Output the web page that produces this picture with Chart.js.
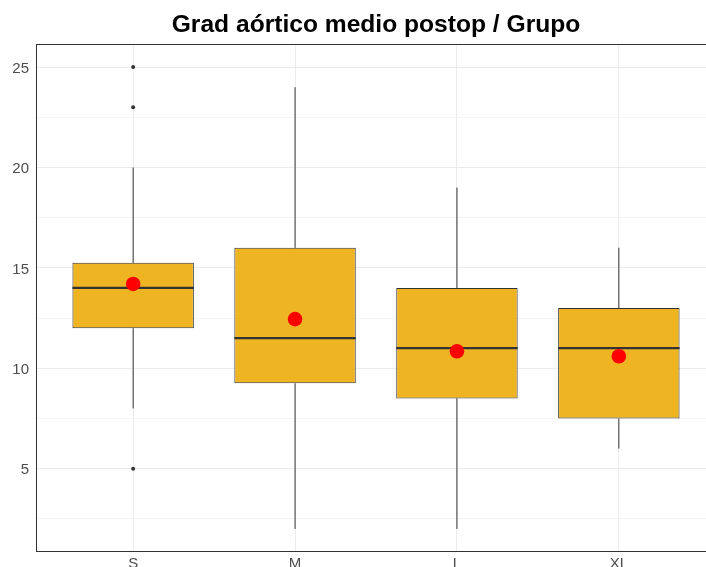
<!DOCTYPE html>
<html>
<head>
<meta charset="utf-8">
<script src="https://cdn.jsdelivr.net/npm/chart.js@4/dist/chart.umd.min.js"></script>
<style>
  html, body { margin: 0; padding: 0; background: #ffffff; overflow: hidden; }
  #wrap { position: absolute; left: 0; top: 0; }
</style>
</head>
<body>
<div id="wrap"><canvas id="c" width="720" height="600"></canvas></div>
<script>
// Groups and their five-number summaries
const categories = ['S', 'M', 'L', 'XL'];
const whiskerLow  = [8, 2, 2, 6];
const q1          = [12, 9.25, 8.5, 7.5];
const medians     = [14, 11.5, 11, 11];
const q3          = [15.25, 16, 14, 13];
const whiskerHigh = [20, 24, 19, 16];
const means       = [14.2, 12.45, 10.85, 10.6];
const outliers    = [[25, 23, 5], [], [], []];

// Axis ticks / gridlines
const yTickValues = [2.5, 5, 7.5, 10, 12.5, 15, 17.5, 20, 22.5, 25];
const yLabelValues = [5, 10, 15, 20, 25];

const BOX_W = 0.75;
const DARK = '#333333';

const positions = categories.map((_, i) => i + 1);

// whisker segments: low -> Q1 and Q3 -> high, separated by gaps
const whiskerData = [];
positions.forEach((x, i) => {
  whiskerData.push({ x, y: whiskerLow[i] }, { x, y: q1[i] }, { x, y: null });
  whiskerData.push({ x, y: q3[i] }, { x, y: whiskerHigh[i] }, { x, y: null });
});

const boxData = positions.map((x, i) => ({ x, y: [q1[i], q3[i]] }));

const medianData = [];
positions.forEach((x, i) => {
  medianData.push({ x: x - BOX_W / 2, y: medians[i] }, { x: x + BOX_W / 2, y: medians[i] }, { x, y: null });
});

const outlierData = [];
positions.forEach((x, i) => outliers[i].forEach(v => outlierData.push({ x, y: v })));

const meanData = positions.map((x, i) => ({ x, y: means[i] }));

// frame around the plotting panel
const panelBorder = {
  id: 'panelBorder',
  afterDatasetsDraw(chart) {
    const { ctx, chartArea: a } = chart;
    ctx.save();
    ctx.strokeStyle = DARK;
    ctx.lineWidth = 1;
    ctx.strokeRect(Math.round(a.left) + 0.5, Math.round(a.top) + 0.5,
                   Math.round(a.right - a.left) - 1, Math.round(a.bottom - a.top) - 1);
    ctx.restore();
  }
};

new Chart(document.getElementById('c'), {
  type: 'bar',
  data: {
    datasets: [
      {
        type: 'line', data: whiskerData, order: 5,
        borderColor: DARK, borderWidth: 1, pointRadius: 0, spanGaps: false, tension: 0
      },
      {
        type: 'bar', data: boxData, order: 4,
        backgroundColor: '#EEB422', borderColor: DARK, borderWidth: 1, borderSkipped: false,
        barPercentage: BOX_W, categoryPercentage: 1.0
      },
      {
        type: 'line', data: medianData, order: 3,
        borderColor: DARK, borderWidth: 2.2, pointRadius: 0, spanGaps: false, tension: 0,
        borderCapStyle: 'butt'
      },
      {
        type: 'scatter', data: outlierData, order: 2,
        pointRadius: 2, backgroundColor: DARK, borderWidth: 0
      },
      {
        type: 'scatter', data: meanData, order: 1,
        pointRadius: 7.3, backgroundColor: '#FF0000', borderWidth: 0
      }
    ]
  },
  options: {
    responsive: false,
    animation: false,
    layout: { autoPadding: false, padding: { left: 0, right: 4, top: 0, bottom: 0 } },
    plugins: {
      legend: { display: false },
      tooltip: { enabled: false },
      title: {
        display: true,
        text: 'Grad aórtico medio postop / Grupo',
        fullSize: false,
        color: '#000000',
        font: { family: 'Liberation Sans', size: 24.6, weight: 'bold', lineHeight: 1.2 },
        padding: { top: 10, bottom: 4.5 }
      }
    },
    scales: {
      x: {
        type: 'linear',
        offset: false,
        min: 0.4, max: 4.6,
        afterBuildTicks: s => { s.ticks = positions.map(v => ({ value: v })); },
        afterFit: s => { s.height = 48; s.paddingLeft = 0; s.paddingRight = 0; },
        grid: { color: '#EBEBEB', lineWidth: 1, drawTicks: false, offset: false },
        border: { display: false },
        ticks: {
          padding: 3,
          color: '#4D4D4D',
          font: { family: 'Liberation Sans', size: 15 },
          callback: v => categories[v - 1] ?? ''
        }
      },
      y: {
        min: 0.85, max: 26.15,
        afterBuildTicks: s => { s.ticks = yTickValues.map(v => ({ value: v })); },
        afterFit: s => { s.width = 36; s.paddingTop = 0; s.paddingBottom = 0; },
        grid: {
          drawTicks: false,
          lineWidth: 1,
          color: c => (yLabelValues.includes(c.tick.value) ? '#EBEBEB' : '#F4F4F4')
        },
        border: { display: false },
        ticks: {
          padding: 7,
          labelOffset: 1.5,
          color: '#4D4D4D',
          font: { family: 'Liberation Sans', size: 15 },
          callback: v => (yLabelValues.includes(v) ? String(v) : '')
        }
      }
    }
  },
  plugins: [panelBorder]
});
</script>
</body>
</html>
